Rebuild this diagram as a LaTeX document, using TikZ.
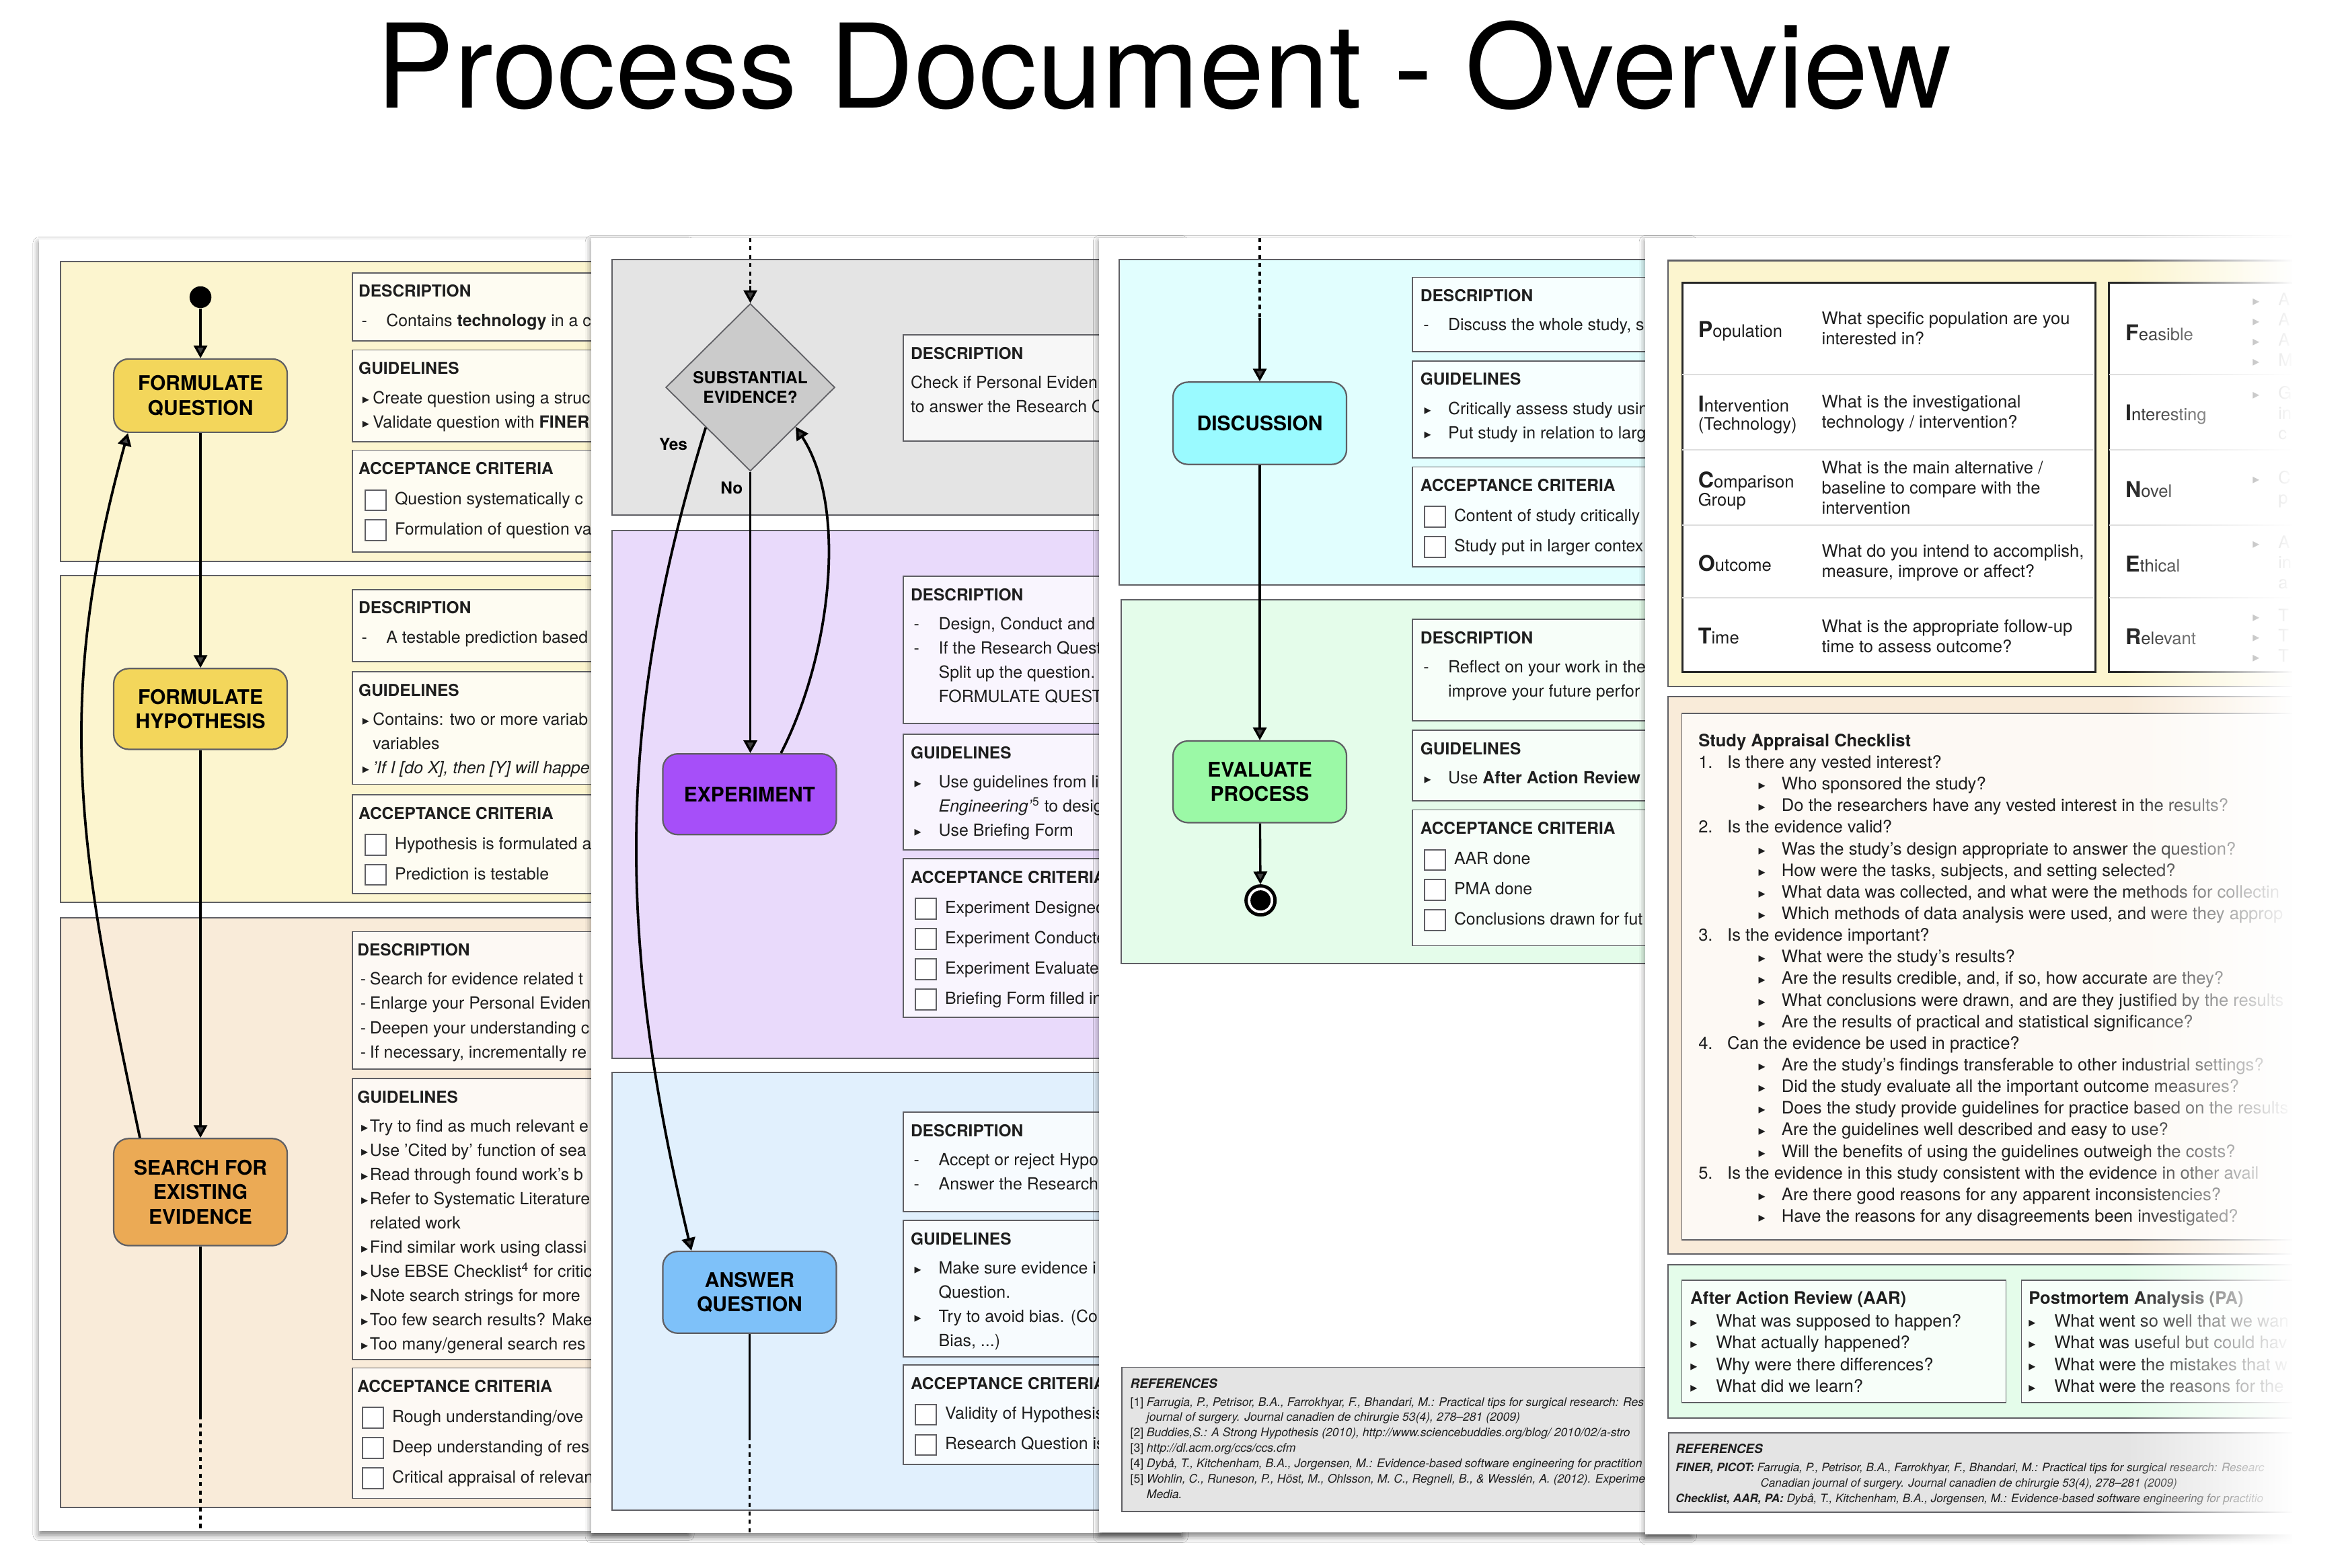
\documentclass[tikz,border=0pt]{standalone}
\usepackage{fontspec}
\setmainfont{TeX Gyre Heros}
\newfontfamily\symfont{DejaVu Sans}
\usetikzlibrary{
  positioning,
  shapes.geometric,
  shadows.blur,
  arrows.meta,
  fadings
}
\definecolor{questcolor}{RGB}{243,214,91}
\definecolor{searchcolor}{RGB}{235,170,85}
\definecolor{decidecolor}{RGB}{203,203,203}
\definecolor{expcolor}{RGB}{166,79,249}
\definecolor{answercolor}{RGB}{126,193,249}
\definecolor{discusscolor}{RGB}{154,250,255}
\definecolor{evalcolor}{RGB}{155,249,166}
\definecolor{yellowpanel}{RGB}{252,245,207}
\definecolor{peachpanel}{RGB}{249,235,217}
\definecolor{graypanel}{RGB}{228,228,228}
\definecolor{purplepanel}{RGB}{233,218,251}
\definecolor{bluepanel}{RGB}{225,240,253}
\definecolor{cyanpanel}{RGB}{225,254,254}
\definecolor{greenpanel}{RGB}{228,252,234}
\definecolor{framecol}{RGB}{95,95,100}
\definecolor{textcol}{RGB}{30,30,30}
\definecolor{rulecol}{RGB}{222,222,222}
\tikzfading[name=fade to white, left color=transparent!100, right color=transparent!0]

\newcommand{\lead}[2]{\makebox[#1][l]{#2}}
\newcommand{\tri}{{\symfont\fontsize{9}{9}\selectfont ▸}}
\newcommand{\trl}[1]{\lead{#1}{\hspace*{2.5pt}\tri}}
\newcommand{\dsh}[1]{\lead{#1}{\hspace*{2pt}-}}
\newcommand{\chk}{{\setlength{\fboxsep}{0pt}\setlength{\fboxrule}{0.9pt}%
  \raisebox{-3.3pt}{\fcolorbox{framecol}{white}{\rule{0pt}{12.8pt}\hspace{12.8pt}}}}}
\newcommand{\chl}[1]{\hspace*{#1}\chk\hspace{5.6pt}}
\newcommand{\boxhead}[1]{{\bfseries\fontsize{11}{11}\selectfont #1}}
\newcommand{\initial}[1]{{\bfseries\fontsize{14.5}{14.5}\selectfont #1}}

\tikzset{
  page/.style={
    fill=white,
    blur shadow={shadow xshift=0pt, shadow yshift=-2.5pt,
      shadow blur radius=4pt, shadow opacity=50}
  },
  panel/.style={draw=framecol, line width=0.9pt, fill=#1},
  infobox/.style={
    rectangle, draw=framecol, line width=0.8pt, fill=white!72!#1,
    anchor=north west, inner sep=0pt, minimum width=180pt
  },
  boxtext/.style={
    inner sep=0pt, align=left, text=textcol,
    font=\fontsize{11.2}{16.2}\selectfont
  },
  checktext/.style={boxtext, font=\fontsize{11.2}{20.2}\selectfont},
  process/.style={
    rectangle, rounded corners=10pt, draw=framecol, line width=1pt,
    fill=#1, minimum width=116pt, align=center, text=black,
    font=\bfseries\fontsize{13.5}{16.5}\selectfont
  },
  decision/.style={
    diamond, draw=framecol, line width=0.8pt, fill=decidecolor,
    minimum width=113pt, minimum height=112pt, inner sep=0pt,
    align=center, font=\bfseries\fontsize{11}{13}\selectfont
  },
  flow/.style={-{Triangle[length=8.5pt,width=9pt]}, line width=1.5pt},
  loopflow/.style={flow, line width=1.7pt},
  link/.style={line width=1.5pt},
  cutline/.style={line width=1.5pt, dash pattern=on 2.8pt off 2.8pt},
  flowlabel/.style={font=\bfseries\fontsize{11}{11}\selectfont, inner sep=0pt},
  tablebox/.style={
    rectangle, draw=black!85, line width=1.3pt, fill=white,
    anchor=north west, inner sep=0pt
  },
  rowrule/.style={draw=rulecol, line width=1pt},
  picolabel/.style={
    anchor=west, align=left, inner sep=0pt, text=textcol,
    font=\fontsize{11.5}{12.3}\selectfont
  },
  picotext/.style={picolabel, font=\fontsize{11.5}{13.5}\selectfont},
  listtext/.style={boxtext, font=\fontsize{11.5}{14.45}\selectfont},
  aartext/.style={boxtext, font=\fontsize{11.5}{14.6}\selectfont},
  reftext/.style={boxtext, font=\fontsize{7.9}{10.3}\selectfont},
  startstate/.style={circle, fill=black, minimum size=14.6pt, inner sep=0pt},
  endstate/.style={
    circle, draw=black, line width=2.2pt, fill=white,
    minimum size=19.4pt, inner sep=0pt
  }
}

\begin{document}
\begin{tikzpicture}[x=1pt, y=-1pt]
  \useasboundingbox (0,0) rectangle (1568,1048);
  \fill[white] (0,0) rectangle (1568,1048);

  % Title
  \node[font=\fontsize{78}{80}\selectfont, anchor=base] (title) at (778,72)
    {Process Document - Overview};

  % ===== Page 1: question, hypothesis, search =====
  \path[page] (26,160) rectangle (460,1023.6);
  \draw[panel=yellowpanel] (40.3,175) rectangle (450,375.4);
  \draw[panel=yellowpanel] (40.3,385) rectangle (450,603.5);
  \draw[panel=peachpanel] (40.3,613.7) rectangle (450,1008);

  % Formulate question boxes
  \node[infobox=yellowpanel, minimum height=45.5pt] (qdesc) at (235,182) {};
  \node[boxtext, below right=8.3pt and 4.5pt of qdesc.north west] (qdesctxt)
    {\boxhead{DESCRIPTION}\\[3.3pt]
     \dsh{18.5pt}Contains \textbf{technology} in a c};
  \node[infobox=yellowpanel, minimum height=61.4pt] (qguide) at (235,233.6) {};
  \node[boxtext, below right=8.3pt and 4.5pt of qguide.north west] (qguidetxt)
    {\boxhead{GUIDELINES}\\[3.3pt]
     \trl{9.5pt}Create question using a struc\\
     \trl{9.5pt}Validate question with \textbf{FINER}};
  \node[infobox=yellowpanel, minimum height=68.1pt] (qaccept) at (235,300.6) {};
  \node[checktext, below right=8.3pt and 4.5pt of qaccept.north west] (qaccepttxt)
    {\boxhead{ACCEPTANCE CRITERIA}\\
     \chl{4pt}Question systematically c\\
     \chl{4pt}Formulation of question va};

  % Formulate hypothesis boxes
  \node[infobox=yellowpanel, minimum height=48.3pt] (hdesc) at (235,393.7) {};
  \node[boxtext, below right=8.3pt and 4.5pt of hdesc.north west] (hdesctxt)
    {\boxhead{DESCRIPTION}\\[3.3pt]
     \dsh{18.5pt}A testable prediction based};
  \node[infobox=yellowpanel, minimum height=75.3pt] (hguide) at (235,448.7) {};
  \node[boxtext, below right=8.3pt and 4.5pt of hguide.north west] (hguidetxt)
    {\boxhead{GUIDELINES}\\[3.3pt]
     \trl{9.5pt}Contains: two or more variab\\
     \hspace*{9.5pt}variables\\
     \trl{9.5pt}\textit{'If I [do X], then [Y] will happe}};
  \node[infobox=yellowpanel, minimum height=66pt] (haccept) at (235,531) {};
  \node[checktext, below right=8.3pt and 4.5pt of haccept.north west] (haccepttxt)
    {\boxhead{ACCEPTANCE CRITERIA}\\
     \chl{4pt}Hypothesis is formulated a\\
     \chl{4pt}Prediction is testable};

  % Search boxes
  \node[infobox=peachpanel, minimum height=91.9pt] (sdesc) at (235,622.4) {};
  \node[boxtext, below right=8.3pt and 3.7pt of sdesc.north west] (sdesctxt)
    {\boxhead{DESCRIPTION}\\[3.3pt]
     \dsh{8.3pt}Search for evidence related t\\
     \dsh{8.3pt}Enlarge your Personal Eviden\\
     \dsh{8.3pt}Deepen your understanding c\\
     \dsh{8.3pt}If necessary, incrementally re};
  \node[infobox=peachpanel, minimum height=187.9pt] (sguide) at (235,720.6) {};
  \node[boxtext, below right=8.3pt and 3.7pt of sguide.north west] (sguidetxt)
    {\boxhead{GUIDELINES}\\[3.3pt]
     \trl{8.3pt}Try to find as much relevant e\\
     \trl{8.3pt}Use 'Cited by' function of sea\\
     \trl{8.3pt}Read through found work's b\\
     \trl{8.3pt}Refer to Systematic Literature\\
     \hspace*{8.3pt}related work\\
     \trl{8.3pt}Find similar work using classi\\
     \trl{8.3pt}Use EBSE Checklist\textsuperscript{4} for critic\\
     \trl{8.3pt}Note search strings for more\\
     \trl{8.3pt}Too few search results? Make\\
     \trl{8.3pt}Too many/general search res};
  \node[infobox=peachpanel, minimum height=87.2pt] (saccept) at (235,914.2) {};
  \node[checktext, below right=8.3pt and 3.7pt of saccept.north west] (saccepttxt)
    {\boxhead{ACCEPTANCE CRITERIA}\\
     \chl{3pt}Rough understanding/ove\\
     \chl{3pt}Deep understanding of res\\
     \chl{3pt}Critical appraisal of relevan};

  % Flow of page 1
  \node[startstate] (start) at (134,198.7) {};
  \node[process=questcolor, minimum height=49pt] (fq) at (134,264.5)
    {FORMULATE\\QUESTION};
  \node[process=questcolor, minimum height=54pt] (fh) at (134,474)
    {FORMULATE\\HYPOTHESIS};
  \node[process=searchcolor, minimum height=71.6pt] (sfee) at (134,797)
    {SEARCH FOR\\EXISTING\\EVIDENCE};
  \coordinate (p1cut) at (134,946);
  \coordinate (p1end) at (134,1023);

  \draw[flow] (start) -- (fq);
  \draw[flow] (fq) -- (fh);
  \draw[flow] (fh) -- (sfee);
  \draw[link] (sfee) -- (p1cut);
  \draw[cutline] (p1cut) -- (p1end);
  \draw[loopflow] ([xshift=18pt]sfee.north west)
    .. controls +(-39.5,-187.5) and +(-51,185) .. ([xshift=10pt]fq.south west);

  % ===== Page 2: decision, experiment, answer =====
  \path[page] (395.2,159) rectangle (790,1025);
  \draw[panel=graypanel] (408.9,173.5) rectangle (780,344.4);
  \draw[panel=purplepanel] (408.9,354.5) rectangle (780,707.4);
  \draw[panel=bluepanel] (408.9,717) rectangle (780,1009.6);

  % Decision box
  \node[infobox=graypanel, minimum height=71pt] (edesc) at (603.2,223.6) {};
  \node[boxtext, below right=8.3pt and 5.3pt of edesc.north west] (edesctxt)
    {\boxhead{DESCRIPTION}\\[3.3pt]
     Check if Personal Eviden\\
     to answer the Research Q};

  % Experiment boxes
  \node[infobox=purplepanel, minimum height=98.5pt] (xdesc) at (603.2,384.9) {};
  \node[boxtext, below right=8.3pt and 5.3pt of xdesc.north west] (xdesctxt)
    {\boxhead{DESCRIPTION}\\[3.3pt]
     \dsh{18.7pt}Design, Conduct and\\
     \dsh{18.7pt}If the Research Quest\\
     \hspace*{18.7pt}Split up the question.\\
     \hspace*{18.7pt}FORMULATE QUEST};
  \node[infobox=purplepanel, minimum height=77.1pt] (xguide) at (603.2,490.6) {};
  \node[boxtext, below right=8.3pt and 5.3pt of xguide.north west] (xguidetxt)
    {\boxhead{GUIDELINES}\\[3.3pt]
     \trl{18.7pt}Use guidelines from li\\
     \hspace*{18.7pt}\textit{Engineering’}\textsuperscript{5} to desig\\
     \trl{18.7pt}Use Briefing Form};
  \node[infobox=purplepanel, minimum height=106pt] (xaccept) at (603.2,573.8) {};
  \node[checktext, below right=8.3pt and 5.3pt of xaccept.north west] (xaccepttxt)
    {\boxhead{ACCEPTANCE CRITERIA}\\
     \chl{2.7pt}Experiment Designed\\
     \chl{2.7pt}Experiment Conducted\\
     \chl{2.7pt}Experiment Evaluated\\
     \chl{2.7pt}Briefing Form filled in};

  % Answer boxes
  \node[infobox=bluepanel, minimum height=66.5pt] (adesc) at (603.2,743.3) {};
  \node[boxtext, below right=8.3pt and 5.3pt of adesc.north west] (adesctxt)
    {\boxhead{DESCRIPTION}\\[3.3pt]
     \dsh{18.7pt}Accept or reject Hypo\\
     \dsh{18.7pt}Answer the Research};
  \node[infobox=bluepanel, minimum height=91.3pt] (aguide) at (603.2,815.5) {};
  \node[boxtext, below right=8.3pt and 5.3pt of aguide.north west] (aguidetxt)
    {\boxhead{GUIDELINES}\\[3.3pt]
     \trl{18.7pt}Make sure evidence i\\
     \hspace*{18.7pt}Question.\\
     \trl{18.7pt}Try to avoid bias. (Co\\
     \hspace*{18.7pt}Bias, ...)};
  \node[infobox=bluepanel, minimum height=66.5pt] (aaccept) at (603.2,912.1) {};
  \node[checktext, below right=8.3pt and 5.3pt of aaccept.north west] (aaccepttxt)
    {\boxhead{ACCEPTANCE CRITERIA}\\
     \chl{2.7pt}Validity of Hypothesis\\
     \chl{2.7pt}Research Question is};

  % Flow of page 2
  \node[decision] (subev) at (501.5,259) {SUBSTANTIAL\\EVIDENCE?};
  \node[process=expcolor, minimum height=54pt] (exper) at (501,531) {EXPERIMENT};
  \node[process=answercolor, minimum height=54.7pt] (answer) at (501,864)
    {ANSWER\\QUESTION};
  \node[flowlabel] (yes) at (450,297) {Yes};
  \node[flowlabel] (no) at (489,326.4) {No};
  \coordinate (p2top) at (501.5,159);
  \coordinate (p2join) at (501.5,191);
  \coordinate (p2cut) at (501,960);
  \coordinate (p2end) at (501,1025);

  \draw[cutline] (p2top) -- (p2join);
  \draw[flow] (p2join) -- (subev.north);
  \draw[flow] (subev.south) -- (subev.south |- exper.north);
  \draw[loopflow] ([xshift=21pt]exper.north)
    .. controls +(32.8,-63.9) and +(35.4,54.9) .. (subev.319);
  \draw[loopflow] (subev.222)
    .. controls +(-61.7,200) and +(-48.6,-204.3) .. ([xshift=19.6pt]answer.north west);
  \draw[link] (answer) -- (p2cut);
  \draw[cutline] (p2cut) -- (p2end);

  % ===== Page 3: discussion, evaluation =====
  \path[page] (734.6,159) rectangle (1130,1024.6);
  \draw[panel=cyanpanel] (748,173.7) rectangle (1120,391.3);
  \draw[panel=greenpanel] (749.3,401.1) rectangle (1120,644);

  % Discussion boxes
  \node[infobox=cyanpanel, minimum height=49.6pt] (ddesc) at (943.6,185) {};
  \node[boxtext, below right=8.3pt and 5.6pt of ddesc.north west] (ddesctxt)
    {\boxhead{DESCRIPTION}\\[3.3pt]
     \dsh{18.5pt}Discuss the whole study, s};
  \node[infobox=cyanpanel, minimum height=64.7pt] (dguide) at (943.6,240.9) {};
  \node[boxtext, below right=8.3pt and 5.6pt of dguide.north west] (dguidetxt)
    {\boxhead{GUIDELINES}\\[3.3pt]
     \trl{18.5pt}Critically assess study usin\\
     \trl{18.5pt}Put study in relation to larg};
  \node[infobox=cyanpanel, minimum height=66.9pt] (daccept) at (943.6,311.8) {};
  \node[checktext, below right=8.3pt and 5.6pt of daccept.north west] (daccepttxt)
    {\boxhead{ACCEPTANCE CRITERIA}\\
     \chl{2.3pt}Content of study critically\\
     \chl{2.3pt}Study put in larger contex};

  % Evaluation boxes
  \node[infobox=greenpanel, minimum height=67.8pt] (vdesc) at (943.6,413.7) {};
  \node[boxtext, below right=8.3pt and 5.6pt of vdesc.north west] (vdesctxt)
    {\boxhead{DESCRIPTION}\\[3.3pt]
     \dsh{18.5pt}Reflect on your work in the\\
     \hspace*{18.5pt}improve your future perfor};
  \node[infobox=greenpanel, minimum height=47.3pt] (vguide) at (943.6,487.8) {};
  \node[boxtext, below right=8.3pt and 5.6pt of vguide.north west] (vguidetxt)
    {\boxhead{GUIDELINES}\\[3.3pt]
     \trl{18.5pt}Use \textbf{After Action Review} a};
  \node[infobox=greenpanel, minimum height=90.8pt] (vaccept) at (943.6,541.1) {};
  \node[checktext, below right=8.3pt and 5.6pt of vaccept.north west] (vaccepttxt)
    {\boxhead{ACCEPTANCE CRITERIA}\\
     \chl{2.3pt}AAR done\\
     \chl{2.3pt}PMA done\\
     \chl{2.3pt}Conclusions drawn for fut};

  % References of page 3
  \node[infobox=graypanel, minimum width=380pt, minimum height=96.3pt, fill=graypanel]
    (p3refs) at (749.3,913.7) {};
  \node[reftext, below right=8pt and 6pt of p3refs.north west] (p3reftxt)
    {{\bfseries\itshape\fontsize{8.5}{8.5}\selectfont REFERENCES}\\[1.5pt]
     \lead{10.9pt}{[1]}\textit{Farrugia, P., Petrisor, B.A., Farrokhyar, F., Bhandari, M.: Practical tips for surgical research: Res}\\
     \hspace*{10.9pt}\textit{journal of surgery. Journal canadien de chirurgie 53(4), 278–281 (2009)}\\
     \lead{10.9pt}{[2]}\textit{Buddies,S.: A Strong Hypothesis (2010), http://www.sciencebuddies.org/blog/ 2010/02/a-stro}\\
     \lead{10.9pt}{[3]}\textit{http://dl.acm.org/ccs/ccs.cfm}\\
     \lead{10.9pt}{[4]}\textit{Dybå, T., Kitchenham, B.A., Jorgensen, M.: Evidence-based software engineering for practition}\\
     \lead{10.9pt}{[5]}\textit{Wohlin, C., Runeson, P., Höst, M., Ohlsson, M. C., Regnell, B., \& Wesslén, A. (2012). Experime}\\
     \hspace*{10.9pt}\textit{Media.}};

  % Flow of page 3
  \node[process=discusscolor, minimum height=55pt] (discuss) at (842,283) {DISCUSSION};
  \node[process=evalcolor, minimum height=54.6pt] (evalproc) at (842,522.7)
    {EVALUATE\\PROCESS};
  \node[endstate] (stop) at (842.5,602) {};
  \node[circle, fill=black, minimum size=13.5pt, inner sep=0pt] (stopdot) at (stop) {};
  \coordinate (p3top) at (842,159);
  \coordinate (p3join) at (842,212.5);

  \draw[cutline] (p3top) -- (p3join);
  \draw[flow] (p3join) -- (discuss);
  \draw[flow] (discuss) -- (evalproc);
  \draw[flow] (evalproc) -- (stop);

  % ===== Page 4: PICOT / FINER, checklist, AAR / PA =====
  \path[page] (1099.6,159) rectangle (1560,1026);
  \draw[panel=yellowpanel] (1114.8,174.2) rectangle (1580,458.8);
  \draw[panel=peachpanel] (1114.8,465.5) rectangle (1580,838.3);
  \draw[panel=greenpanel] (1114.8,845.4) rectangle (1580,948);

  % PICOT table
  \node[tablebox, minimum width=276.2pt, minimum height=260.3pt] (picot) at (1123.7,188.2) {};
  \draw[rowrule] (1124.5,250.4) -- (1399,250.4);
  \draw[rowrule] (1124.5,300.8) -- (1399,300.8);
  \draw[rowrule] (1124.5,351.2) -- (1399,351.2);
  \draw[rowrule] (1124.5,399.5) -- (1399,399.5);
  \node[picolabel] (lblp) at (1134.8,221.2) {\initial{P}opulation};
  \node[picolabel] (lbli) at (1134.8,277.5) {\initial{I}ntervention\\(Technology)};
  \node[picolabel] (lblc) at (1134.8,328) {\initial{C}omparison\\Group};
  \node[picolabel] (lblo) at (1134.8,376.7) {\initial{O}utcome};
  \node[picolabel] (lblt) at (1134.8,425.3) {\initial{T}ime};
  \node[picotext] (qp) at (1217.4,219.7) {What specific population are you\\interested in?};
  \node[picotext] (qi) at (1217.4,276.3) {What is the investigational\\technology / intervention?};
  \node[picotext] (qc) at (1217.4,326) {What is the main alternative /\\baseline to compare with the\\intervention};
  \node[picotext] (qo) at (1217.4,376.1) {What do you intend to accomplish,\\measure, improve or affect?};
  \node[picotext] (qt) at (1217.4,425.2) {What is the appropriate follow-up\\time to assess outcome?};

  % FINER table
  \node[tablebox, minimum width=170pt, minimum height=260.3pt] (finer) at (1408.8,188.2) {};
  \draw[rowrule] (1409.6,250.4) -- (1578,250.4);
  \draw[rowrule] (1409.6,300.8) -- (1578,300.8);
  \draw[rowrule] (1409.6,351.2) -- (1578,351.2);
  \draw[rowrule] (1409.6,399.5) -- (1578,399.5);
  \node[picolabel] (lblf) at (1420.4,222.5) {\initial{F}easible};
  \node[picolabel] (lblin) at (1420.4,277) {\initial{I}nteresting};
  \node[picolabel] (lbln) at (1420.4,327.4) {\initial{N}ovel};
  \node[picolabel] (lble) at (1420.4,377.3) {\initial{E}thical};
  \node[picolabel] (lblr) at (1420.4,425.7) {\initial{R}elevant};
  \node[picotext] (ff) at (1505.5,220.5)
    {\lead{17pt}{\tri}A\\\lead{17pt}{\tri}A\\\lead{17pt}{\tri}A\\\lead{17pt}{\tri}M};
  \node[picotext] (fi) at (1505.5,276) {\lead{17pt}{\tri}G\\\hspace*{17pt}in\\\hspace*{17pt}c};
  \node[picotext] (fn) at (1505.5,327.3) {\lead{17pt}{\tri}C\\\hspace*{17pt}p};
  \node[picotext] (fe) at (1505.5,375.9) {\lead{17pt}{\tri}A\\\hspace*{17pt}in\\\hspace*{17pt}a};
  \node[picotext] (fr) at (1505.5,425)
    {\lead{17pt}{\tri}T\\\lead{17pt}{\tri}T\\\lead{17pt}{\tri}T};

  % Study appraisal checklist
  \node[infobox=peachpanel, minimum width=450pt, minimum height=352.1pt] (checkbox)
    at (1123.7,476.4) {};
  \node[listtext, below right=14pt and 11.3pt of checkbox.north west] (checklist)
    {{\bfseries Study Appraisal Checklist}\\
     \lead{19.3pt}{1.}Is there any vested interest?\\
     \hspace*{40.2pt}\lead{15.4pt}{\tri}Who sponsored the study?\\
     \hspace*{40.2pt}\lead{15.4pt}{\tri}Do the researchers have any vested interest in the results?\\
     \lead{19.3pt}{2.}Is the evidence valid?\\
     \hspace*{40.2pt}\lead{15.4pt}{\tri}Was the study’s design appropriate to answer the question?\\
     \hspace*{40.2pt}\lead{15.4pt}{\tri}How were the tasks, subjects, and setting selected?\\
     \hspace*{40.2pt}\lead{15.4pt}{\tri}What data was collected, and what were the methods for collectin\\
     \hspace*{40.2pt}\lead{15.4pt}{\tri}Which methods of data analysis were used, and were they approp\\
     \lead{19.3pt}{3.}Is the evidence important?\\
     \hspace*{40.2pt}\lead{15.4pt}{\tri}What were the study’s results?\\
     \hspace*{40.2pt}\lead{15.4pt}{\tri}Are the results credible, and, if so, how accurate are they?\\
     \hspace*{40.2pt}\lead{15.4pt}{\tri}What conclusions were drawn, and are they justified by the results\\
     \hspace*{40.2pt}\lead{15.4pt}{\tri}Are the results of practical and statistical significance?\\
     \lead{19.3pt}{4.}Can the evidence be used in practice?\\
     \hspace*{40.2pt}\lead{15.4pt}{\tri}Are the study’s findings transferable to other industrial settings?\\
     \hspace*{40.2pt}\lead{15.4pt}{\tri}Did the study evaluate all the important outcome measures?\\
     \hspace*{40.2pt}\lead{15.4pt}{\tri}Does the study provide guidelines for practice based on the results\\
     \hspace*{40.2pt}\lead{15.4pt}{\tri}Are the guidelines well described and easy to use?\\
     \hspace*{40.2pt}\lead{15.4pt}{\tri}Will the benefits of using the guidelines outweigh the costs?\\
     \lead{19.3pt}{5.}Is the evidence in this study consistent with the evidence in other avail\\
     \hspace*{40.2pt}\lead{15.4pt}{\tri}Are there good reasons for any apparent inconsistencies?\\
     \hspace*{40.2pt}\lead{15.4pt}{\tri}Have the reasons for any disagreements been investigated?};

  % After action review / postmortem
  \node[infobox=greenpanel, minimum width=216.6pt, minimum height=82pt] (aarbox)
    at (1123.7,855.5) {};
  \node[aartext, below right=7.5pt and 6pt of aarbox.north west] (aartxt)
    {{\bfseries After Action Review (AAR)}\\[0.7pt]
     \lead{17pt}{\tri}What was supposed to happen?\\
     \lead{17pt}{\tri}What actually happened?\\
     \lead{17pt}{\tri}Why were there differences?\\
     \lead{17pt}{\tri}What did we learn?};
  \node[infobox=greenpanel, minimum width=220pt, minimum height=82pt] (pabox)
    at (1350.7,855.5) {};
  \node[aartext, below right=7.5pt and 5.1pt of pabox.north west] (patxt)
    {{\bfseries Postmortem Analysis (PA)}\\[0.7pt]
     \lead{17pt}{\tri}What went so well that we wan\\
     \lead{17pt}{\tri}What was useful but could hav\\
     \lead{17pt}{\tri}What were the mistakes that w\\
     \lead{17pt}{\tri}What were the reasons for the};

  % References of page 4
  \node[infobox=graypanel, minimum width=455pt, minimum height=53pt, fill=graypanel]
    (p4refs) at (1114.8,957.5) {};
  \node[reftext, font=\fontsize{7.7}{10.2}\selectfont,
        below right=7.5pt and 5pt of p4refs.north west] (p4reftxt)
    {{\bfseries\itshape\fontsize{8.5}{8.5}\selectfont REFERENCES}\\[2.3pt]
     \textbf{\textit{FINER, PICOT:}} \textit{Farrugia, P., Petrisor, B.A., Farrokhyar, F., Bhandari, M.: Practical tips for surgical research: Researc}\\
     \hspace*{56.7pt}\textit{Canadian journal of surgery. Journal canadien de chirurgie 53(4), 278–281 (2009)}\\
     \textbf{\textit{Checklist, AAR, PA:}} \textit{Dybå, T., Kitchenham, B.A., Jorgensen, M.: Evidence-based software engineering for practitio}};

  % Right edge of the last page fades out
  \fill[white, path fading=fade to white] (1420,150) rectangle (1533,1048);
  \fill[white] (1532,150) rectangle (1568,1048);

\end{tikzpicture}
\end{document}
